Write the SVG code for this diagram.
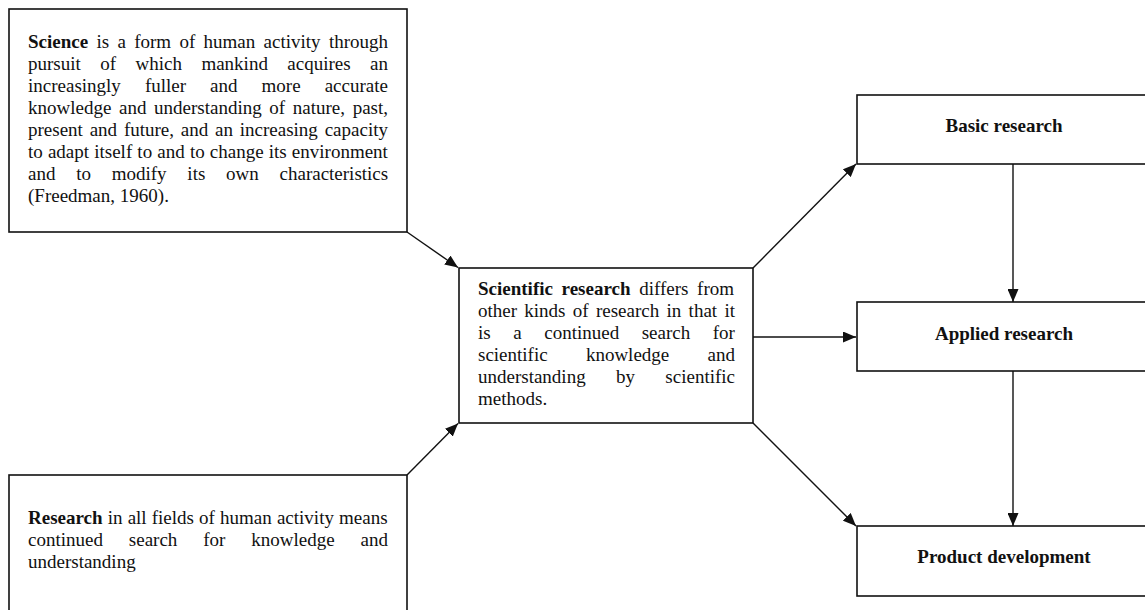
<svg xmlns="http://www.w3.org/2000/svg" width="1145" height="610" viewBox="0 0 1145 610">
<style>
.box{fill:#fff;stroke:#111;stroke-width:1.6}
.t{font-family:"Liberation Serif","Times New Roman",serif;font-size:19px;fill:#111}
.b{font-weight:bold}
.c{text-anchor:middle}
.conn{stroke:#111;stroke-width:1.4;fill:none;marker-end:url(#ah)}
</style>
<defs>
<marker id="ah" markerUnits="userSpaceOnUse" markerWidth="14" markerHeight="11" refX="13" refY="5.5" orient="auto">
<path d="M0,0 L13,5.5 L0,11 z" fill="#111"/>
</marker>
</defs>
<rect width="1145" height="610" fill="#fff"/>
<g id="connectors">
<line class="conn" x1="407" y1="232" x2="458" y2="267.5"/>
<line class="conn" x1="407" y1="475" x2="458" y2="423.5"/>
<line class="conn" x1="753" y1="268" x2="856" y2="164"/>
<line class="conn" x1="753" y1="337" x2="856" y2="337"/>
<line class="conn" x1="753" y1="423" x2="856" y2="526"/>
<line class="conn" x1="1013" y1="164" x2="1013" y2="302"/>
<line class="conn" x1="1013" y1="371" x2="1013" y2="526"/>
</g>
<g id="science">
<rect class="box" x="9" y="9" width="398" height="223"/>
<text class="t" x="28" y="48" style="word-spacing:3.56px"><tspan class="b">Science</tspan> is a form of human activity through</text>
<text class="t" x="28" y="70" style="word-spacing:14.7px">pursuit of which mankind acquires an</text>
<text class="t" x="28" y="92" style="word-spacing:19.3px">increasingly fuller and more accurate</text>
<text class="t" x="28" y="114" style="word-spacing:2.88px">knowledge and understanding of nature, past,</text>
<text class="t" x="28" y="136" style="word-spacing:2.05px">present and future, and an increasing capacity</text>
<text class="t" x="28" y="158" style="word-spacing:0.4px">to adapt itself to and to change its environment</text>
<text class="t" x="28" y="180" style="word-spacing:16px">and to modify its own characteristics</text>
<text class="t" x="28" y="202">(Freedman, 1960).</text>
</g>
<g id="research">
<rect class="box" x="9" y="475" width="398" height="150"/>
<text class="t" x="28" y="524" style="word-spacing:0.39px"><tspan class="b">Research</tspan> in all fields of human activity means</text>
<text class="t" x="28" y="546" style="word-spacing:21.15px">continued search for knowledge and</text>
<text class="t" x="28" y="568">understanding</text>
</g>
<g id="scientific-research">
<rect class="box" x="459" y="268" width="294" height="155"/>
<text class="t" x="478" y="295" style="word-spacing:3.9px"><tspan class="b">Scientific research</tspan> differs from</text>
<text class="t" x="478" y="317" style="word-spacing:2.55px">other kinds of research in that it</text>
<text class="t" x="478" y="339" style="word-spacing:17.8px">is a continued search for</text>
<text class="t" x="478" y="361" style="word-spacing:33.5px">scientific knowledge and</text>
<text class="t" x="478" y="383" style="word-spacing:25.6px">understanding by scientific</text>
<text class="t" x="478" y="405">methods.</text>
</g>
<g id="basic-research">
<rect class="box" x="857" y="95" width="300" height="69"/>
<text class="t b c" x="1004" y="132">Basic research</text>
</g>
<g id="applied-research">
<rect class="box" x="857" y="302" width="300" height="69"/>
<text class="t b c" x="1004" y="340">Applied research</text>
</g>
<g id="product-development">
<rect class="box" x="857" y="526" width="300" height="70"/>
<text class="t b c" x="1004" y="563">Product development</text>
</g>
</svg>
